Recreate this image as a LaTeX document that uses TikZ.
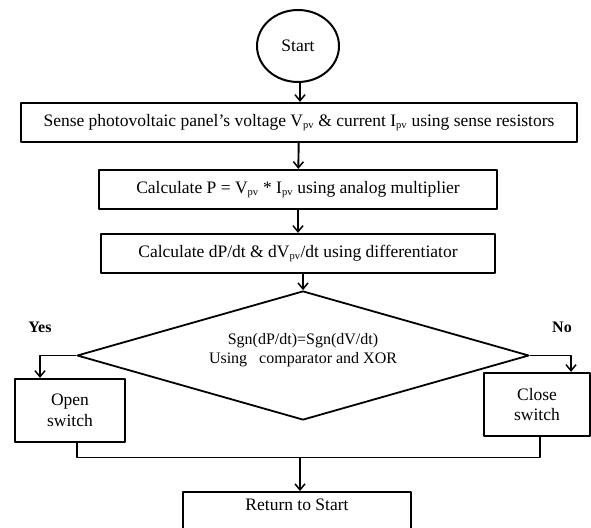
\documentclass[tikz,border=0pt]{standalone}
\usepackage{fontspec}
\setmainfont{Liberation Serif}
\usetikzlibrary{arrows.meta,shapes.geometric,positioning}
\newcommand{\pvsub}{\textsubscript{\fontsize{10.5}{11}\selectfont pv}}

\begin{document}
\begin{tikzpicture}[x=1pt,y=-1pt,line join=round,>={Straight Barb[length=6pt,width=10pt,line width=1.5pt]},
    box/.style={draw,line width=2.3pt,inner sep=0pt,minimum height=39pt,font=\fontsize{17.5}{20}\selectfont},
    smallbox/.style={box,align=center,minimum height=63pt,font=\fontsize{17.5}{20.5}\selectfont},
    flow/.style={line width=1.9pt},
    ans/.style={font=\bfseries\fontsize{16}{18}\selectfont}]
  \useasboundingbox (0,0) rectangle (591,527);
  % start and the three steps
  \node[draw,ellipse,line width=2pt,minimum width=82pt,minimum height=72pt,inner sep=0pt,font=\fontsize{17.5}{20}\selectfont] (start) at (298,46) {Start};
  \node[box,minimum width=556pt] (sense) at (299,122.5) {Sense photovoltaic panel’s voltage V\pvsub{} \& current I\pvsub{} using sense resistors};
  \node[box,minimum width=398pt] (calc) at (298,189.5) {Calculate P = V\pvsub{} * I\pvsub{} using analog multiplier};
  \node[box,minimum width=394pt] (diff) at (298,253.5) {Calculate dP/dt \& dV\pvsub/dt using differentiator};
  % decision
  \node[draw,diamond,line width=1.8pt,minimum width=452pt,minimum height=129pt,inner sep=0pt] (dec) at (303,355.5) {};
  \node[align=center,font=\fontsize{16}{19}\selectfont] (dectxt) at (303,350) {Sgn(dP/dt)=Sgn(dV/dt)\\Using\ \ \ comparator and XOR};
  \node[ans] (yes) at (40,327) {Yes};
  \node[ans] (no) at (562,327) {No};
  \node[smallbox,minimum width=110pt] (open) at (70,410.5) {Open\\switch};
  \node[smallbox,minimum width=106pt] (close) at (537,404.5) {Close\\switch};
  \node[box,anchor=north,minimum width=228pt,minimum height=0pt,inner ysep=7pt,text depth=30pt] (ret) at (297,491) {Return to Start};
  \coordinate (merge) at (300,457.5);
  % connectors
  \draw[flow,->] (start.south -| sense.north) ++(1,0) -- ([xshift=1pt]sense.north);
  \draw[flow,->] (sense) -- (calc);
  \draw[flow,->] (calc) -- (diff);
  \draw[flow,->] (dec.north |- diff.south) -- (dec.north);
  \draw[flow,->] (dec.west) -| ([xshift=-30pt]open.north);
  \draw[flow,->] (dec.east) -| ([xshift=34pt]close.north);
  \draw[flow] ([xshift=7pt]open.south) |- (merge) -| ([xshift=3pt]close.south);
  \draw[flow,->] (merge) -- (merge |- ret.north);
\end{tikzpicture}
\end{document}
